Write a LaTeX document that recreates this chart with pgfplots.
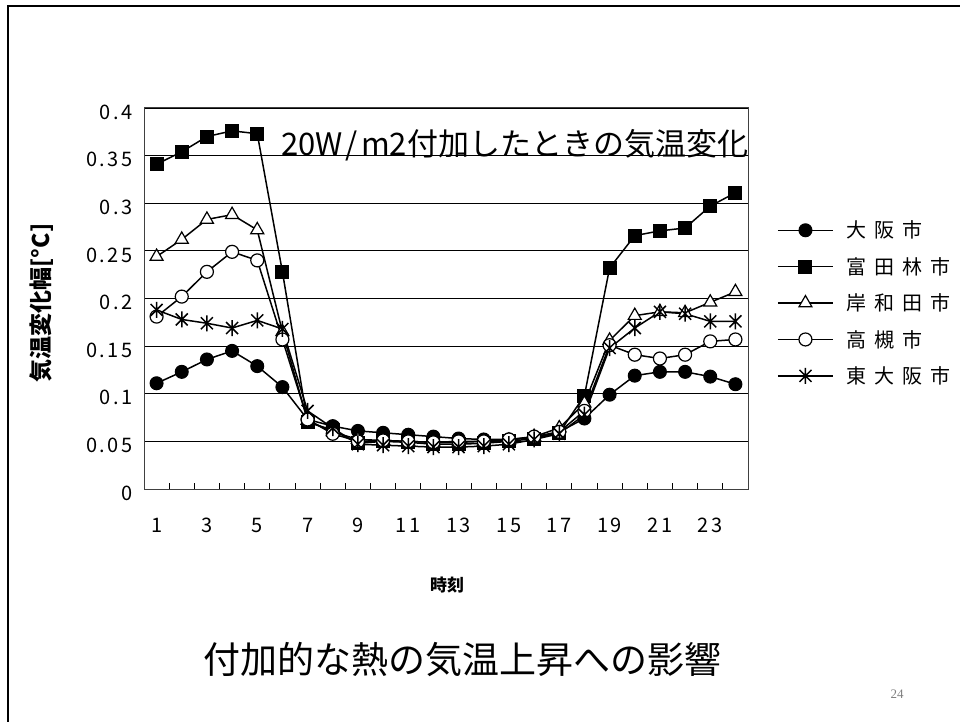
\documentclass[border=0pt]{standalone}
\usepackage{pgfplots}
\pgfplotsset{compat=1.18}
\usepackage{fontspec}
\setmainfont{Noto Sans CJK JP}
\newfontfamily\legfont{Noto Sans CJK JP}[LetterSpace=40]
\newfontfamily\tickfont{Noto Sans CJK JP}[LetterSpace=12]
\newfontfamily\numfont{Liberation Serif}
\pgfdeclareplotmark{xstar}{%
  \pgfpathmoveto{\pgfqpoint{0pt}{\pgfplotmarksize}}%
  \pgfpathlineto{\pgfqpoint{0pt}{-\pgfplotmarksize}}%
  \pgfpathmoveto{\pgfqpoint{0.75\pgfplotmarksize}{0.75\pgfplotmarksize}}%
  \pgfpathlineto{\pgfqpoint{-0.75\pgfplotmarksize}{-0.75\pgfplotmarksize}}%
  \pgfpathmoveto{\pgfqpoint{-0.75\pgfplotmarksize}{0.75\pgfplotmarksize}}%
  \pgfpathlineto{\pgfqpoint{0.75\pgfplotmarksize}{-0.75\pgfplotmarksize}}%
  \pgfusepathqstroke}
\begin{document}
\begin{tikzpicture}
\useasboundingbox (0,0) rectangle (960pt,721pt);
\fill[white] (0,0) rectangle (960pt,721pt);
\draw[line width=2.5pt, black] (8pt,-5pt) -- (8pt,715pt) -- (965pt,715pt);
\begin{axis}[
  at={(144pt,232pt)}, anchor=south west,
  scale only axis, width=604pt, height=381pt,
  xmin=0.5, xmax=24.5, ymin=0, ymax=0.4,
  xtick={1,3,5,7,9,11,13,15,17,19,21,23},
  minor xtick={1.5,2.5,3.5,4.5,5.5,6.5,7.5,8.5,9.5,10.5,11.5,12.5,13.5,14.5,15.5,16.5,17.5,18.5,19.5,20.5,21.5,22.5,23.5},
  xtick pos=bottom, ytick pos=left,
  major x tick style={draw=none},
  minor x tick style={black, line width=0.8pt},
  minor tick length=6pt,
  ytick={0,0.05,0.1,0.15,0.2,0.25,0.3,0.35,0.4},
  ytick style={draw=none},
  ymajorgrids, grid style={black, line width=0.8pt},
  axis line style={line width=1pt, black!75},
  tick label style={font=\tickfont\fontsize{20}{22}\selectfont},
  /pgf/number format/assume math mode=true,
  yticklabel style={/pgf/number format/fixed, /pgf/number format/precision=2, xshift=-8pt, yshift=-4pt},
  xticklabel style={anchor=base, yshift=-43pt},
  clip=false,
  legend style={at={(1.048,0.488)}, anchor=west, draw=none, fill=none, inner sep=0pt,
    row sep=14pt, font=\legfont\fontsize{20}{22}\selectfont,
    nodes={inner xsep=0pt},
    /tikz/every odd column/.append style={column sep=13pt}},
  legend cell align=left,
  legend image code/.code={\draw[mark repeat=2,mark phase=2,#1] plot coordinates {(0pt,0pt)(27.5pt,0pt)(55pt,0pt)};},
]
\addplot[black, line width=1.5pt, mark=*, mark size=6.5pt, mark options={fill=black, line width=1pt}] coordinates {
(1,0.111)(2,0.123)(3,0.136)(4,0.145)(5,0.129)(6,0.107)(7,0.073)(8,0.066)(9,0.061)(10,0.059)(11,0.057)(12,0.055)
(13,0.053)(14,0.052)(15,0.052)(16,0.054)(17,0.060)(18,0.074)(19,0.099)(20,0.119)(21,0.123)(22,0.123)(23,0.118)(24,0.110)};
\addlegendentry{大阪市}
\addplot[black, line width=1.5pt, mark=square*, mark size=6.5pt, mark options={fill=black, line width=1pt}] coordinates {
(1,0.341)(2,0.354)(3,0.370)(4,0.376)(5,0.373)(6,0.228)(7,0.070)(8,0.062)(9,0.048)(10,0.050)(11,0.049)(12,0.047)
(13,0.047)(14,0.048)(15,0.050)(16,0.053)(17,0.059)(18,0.098)(19,0.232)(20,0.266)(21,0.271)(22,0.274)(23,0.297)(24,0.311)};
\addlegendentry{富田林市}
\addplot[black, line width=1.5pt, mark=triangle*, mark size=7.5pt, mark options={fill=white, line width=1.2pt}] coordinates {
(1,0.244)(2,0.262)(3,0.283)(4,0.288)(5,0.272)(6,0.165)(7,0.072)(8,0.060)(9,0.052)(10,0.051)(11,0.050)(12,0.049)
(13,0.049)(14,0.050)(15,0.051)(16,0.055)(17,0.064)(18,0.090)(19,0.156)(20,0.182)(21,0.186)(22,0.185)(23,0.196)(24,0.207)};
\addlegendentry{岸和田市}
\addplot[black, line width=1.5pt, mark=*, mark size=6.5pt, mark options={fill=white, line width=1.2pt}] coordinates {
(1,0.181)(2,0.202)(3,0.228)(4,0.249)(5,0.240)(6,0.157)(7,0.073)(8,0.058)(9,0.050)(10,0.051)(11,0.050)(12,0.049)
(13,0.050)(14,0.050)(15,0.052)(16,0.055)(17,0.060)(18,0.082)(19,0.151)(20,0.141)(21,0.137)(22,0.141)(23,0.155)(24,0.157)};
\addlegendentry{高槻市}
\addplot[black, line width=1.5pt, mark=xstar, mark size=8pt, mark options={line width=1.5pt}] coordinates {
(1,0.188)(2,0.178)(3,0.174)(4,0.169)(5,0.177)(6,0.168)(7,0.082)(8,0.064)(9,0.047)(10,0.046)(11,0.045)(12,0.044)
(13,0.044)(14,0.045)(15,0.047)(16,0.052)(17,0.058)(18,0.078)(19,0.148)(20,0.169)(21,0.186)(22,0.184)(23,0.176)(24,0.176)};
\addlegendentry{東大阪市}
\node[anchor=base west, inner sep=0pt, font=\fontsize{31}{32}\selectfont] at (axis cs:5.95,0.35) {20W\hspace{3pt}/\hspace{3pt}m2付加したときの気温変化};
\end{axis}
\node[rotate=90, font=\bfseries\fontsize{23}{25}\selectfont] at (42pt,418pt) {気温変化幅[°C]};
\node[font=\bfseries\fontsize{17}{20}\selectfont] at (447pt,136pt) {時刻};
\node[font=\fontsize{37}{40}\selectfont] at (462pt,61pt) {付加的な熱の気温上昇への影響};
\node[font=\numfont\fontsize{13}{15}\selectfont, text=gray] at (897pt,27pt) {24};
\end{tikzpicture}
\end{document}
